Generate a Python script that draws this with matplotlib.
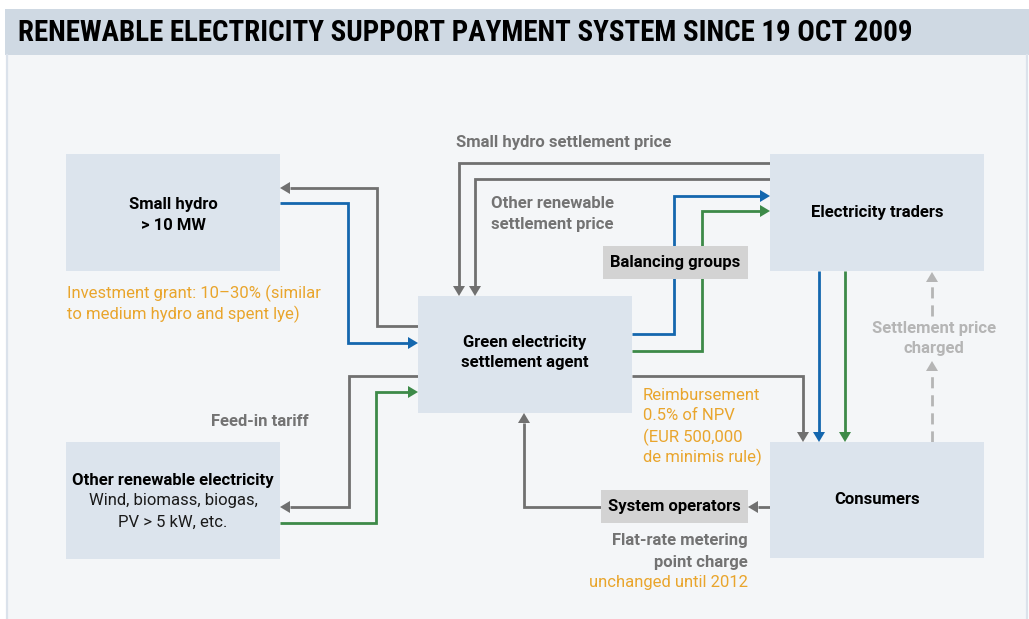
import matplotlib
matplotlib.use('Agg')
from matplotlib import pyplot as plt
from matplotlib import font_manager
from matplotlib.patches import Rectangle, Polygon

# chart content
title = 'RENEWABLE ELECTRICITY SUPPORT PAYMENT SYSTEM SINCE 19 OCT 2009'

box_names = ['small_hydro', 'other_re', 'agent', 'traders', 'consumers', 'balancing', 'sysop']
box_titles = [['Small hydro', '> 10 MW'],
              ['Other renewable electricity'],
              ['Green electricity', 'settlement agent'],
              ['Electricity traders'],
              ['Consumers'],
              ['Balancing groups'],
              ['System operators']]
box_subtitles = [[], ['Wind, biomass, biogas,', 'PV > 5 kW, etc.'], [], [], [], [], []]

flow_labels = ['Small hydro settlement price',
               'Other renewable\nsettlement price',
               'Feed-in tariff',
               'Flat-rate metering\npoint charge']
charge_label = 'Settlement price\ncharged'
note_labels = ['Investment grant: 10\u201330% (similar\nto medium hydro and spent lye)',
               'Reimbursement\n0.5% of NPV\n(EUR 500,000\nde minimis rule)',
               'unchanged until 2012']

# kind of each stream (money / small hydro power / other renewable power / charge)
flow_kinds = ['pay', 'pay', 'pay', 'pay', 'pay', 'pay', 'pay',
              'hydro', 'hydro', 'hydro', 'other', 'other', 'other', 'charge', 'charge']

# ---- layout (pixel coordinates of the 1029x619 picture) ----
box_rects = {  # x0, y0, x1, y1
    'small_hydro': (66, 154, 280, 271),
    'other_re': (66, 442, 280, 559),
    'agent': (418, 296, 632, 413),
    'traders': (770, 154, 984, 271),
    'consumers': (770, 442, 984, 558),
    'balancing': (603, 246, 748, 279),
    'sysop': (601, 490, 748, 523),
}
box_fill = {'balancing': '#d3d3d3', 'sysop': '#d3d3d3'}
title_y = {'small_hydro': [205, 226], 'other_re': [480], 'agent': [343, 363],
           'traders': [212], 'consumers': [499], 'balancing': [263], 'sysop': [507]}
sub_y = {'other_re': [501, 522]}

flow_paths = [
    [(418, 326), (377, 326), (377, 188), (280, 188)],
    [(770, 163), (459, 163), (459, 296)],
    [(770, 179), (475, 179), (475, 296)],
    [(632, 376), (803, 376), (803, 442)],
    [(418, 376), (349, 376), (349, 507), (280, 507)],
    [(770, 507), (748, 507)],
    [(601, 507), (524, 507), (524, 413)],
    [(280, 203), (348, 203), (348, 343), (418, 343)],
    [(632, 334), (674, 334), (674, 196), (770, 196)],
    [(819, 271), (819, 442)],
    [(280, 523), (376, 523), (376, 392), (418, 392)],
    [(632, 351), (702, 351), (702, 211), (770, 211)],
    [(845, 271), (845, 442)],
    [(932, 442), (932, 361)],
    [(932, 316), (932, 272)],
]
kind_color = {'pay': '#707070', 'hydro': '#1467ae', 'other': '#3d8a48', 'charge': '#b5b5b5'}

GRAY_TXT = '#737373'
ORANGE = '#e9a52c'
FS = 12

installed = {f.name for f in font_manager.fontManager.ttflist}
def pick(*names):
    for n in names:
        if n in installed:
            return n
    return 'DejaVu Sans'

title_font = pick('Liberation Sans Narrow', 'Roboto Condensed', 'Liberation Sans')
body_font = pick('Roboto', 'Liberation Sans')

fig = plt.figure(figsize=(10.29, 6.19), dpi=100, facecolor='white')
ax = fig.add_axes([0, 0, 1, 1])
ax.set_xlim(0, 1029)
ax.set_ylim(619, 0)
ax.axis('off')

# header and panel background
ax.add_patch(Rectangle((5, 9), 1024, 46, facecolor='#cfd9e3', edgecolor='none', zorder=0))
ax.add_patch(Rectangle((7, 55), 1020, 570, facecolor='#f4f6f8', edgecolor='none', zorder=0))
ax.plot([7, 7], [55, 619], color='#dbe2eb', lw=1.6, zorder=0.5)
ax.plot([1027, 1027], [55, 619], color='#dbe2eb', lw=1.6, zorder=0.5)

t = ax.text(18, 33, title, fontsize=18, fontweight='bold', family=title_font,
            va='center', ha='left', color='black')
r = fig.canvas.get_renderer()
w = t.get_window_extent(renderer=r).width
t.set_fontsize(18 * 896 / w)

# flows
def arrow(path, color, dashed=False):
    xs = [p[0] for p in path]
    ys = [p[1] for p in path]
    (x0, y0), (x1, y1) = path[-2], path[-1]
    L, H = 10, 6
    dx = (x1 > x0) - (x1 < x0)
    dy = (y1 > y0) - (y1 < y0)
    bx, by = x1 - dx * L, y1 - dy * L
    xs[-1], ys[-1] = bx, by
    ax.plot(xs, ys, color=color, lw=2, solid_joinstyle='miter', solid_capstyle='butt',
            linestyle=(0, (4, 2.5)) if dashed else '-', zorder=2)
    tri = [(x1, y1), (bx - dy * H, by + dx * H), (bx + dy * H, by - dx * H)]
    ax.add_patch(Polygon(tri, closed=True, facecolor=color, edgecolor='none', zorder=2))

for path, kind in zip(flow_paths, flow_kinds):
    arrow(path, kind_color[kind], dashed=(kind == 'charge'))

# boxes
for name, titles, subs in zip(box_names, box_titles, box_subtitles):
    x0, y0, x1, y1 = box_rects[name]
    ax.add_patch(Rectangle((x0, y0), x1 - x0, y1 - y0, facecolor=box_fill.get(name, '#dce4ed'),
                           edgecolor='none', zorder=3))
    cx = (x0 + x1) / 2
    for s, y in zip(titles, title_y[name]):
        ax.text(cx, y, s, ha='center', va='center', fontsize=FS, fontweight='bold',
                family=body_font, color='black', zorder=4)
    for s, y in zip(subs, sub_y.get(name, [])):
        ax.text(cx, y, s, ha='center', va='center', fontsize=FS, family=body_font,
                color='#1a1a1a', zorder=4)

def lines(x, ys, s, color, ha='left', bold=False):
    for line, y in zip(s.split('\n'), ys):
        ax.text(x, y, line, ha=ha, va='center', fontsize=FS, family=body_font,
                fontweight='bold' if bold else 'normal', color=color, zorder=4)

lines(456, [142], flow_labels[0], GRAY_TXT, bold=True)
lines(491, [203, 224], flow_labels[1], GRAY_TXT, bold=True)
lines(309, [421], flow_labels[2], GRAY_TXT, ha='right', bold=True)
lines(748, [541, 562], flow_labels[3], GRAY_TXT, ha='right', bold=True)
lines(934, [329, 349], charge_label, '#b5b5b5', ha='center', bold=True)
lines(67, [293, 314], note_labels[0], ORANGE)
lines(643, [396, 416, 437, 457], note_labels[1], ORANGE)
lines(748, [582], note_labels[2], ORANGE, ha='right')

fig.savefig('out.png', dpi=100, facecolor='white')
